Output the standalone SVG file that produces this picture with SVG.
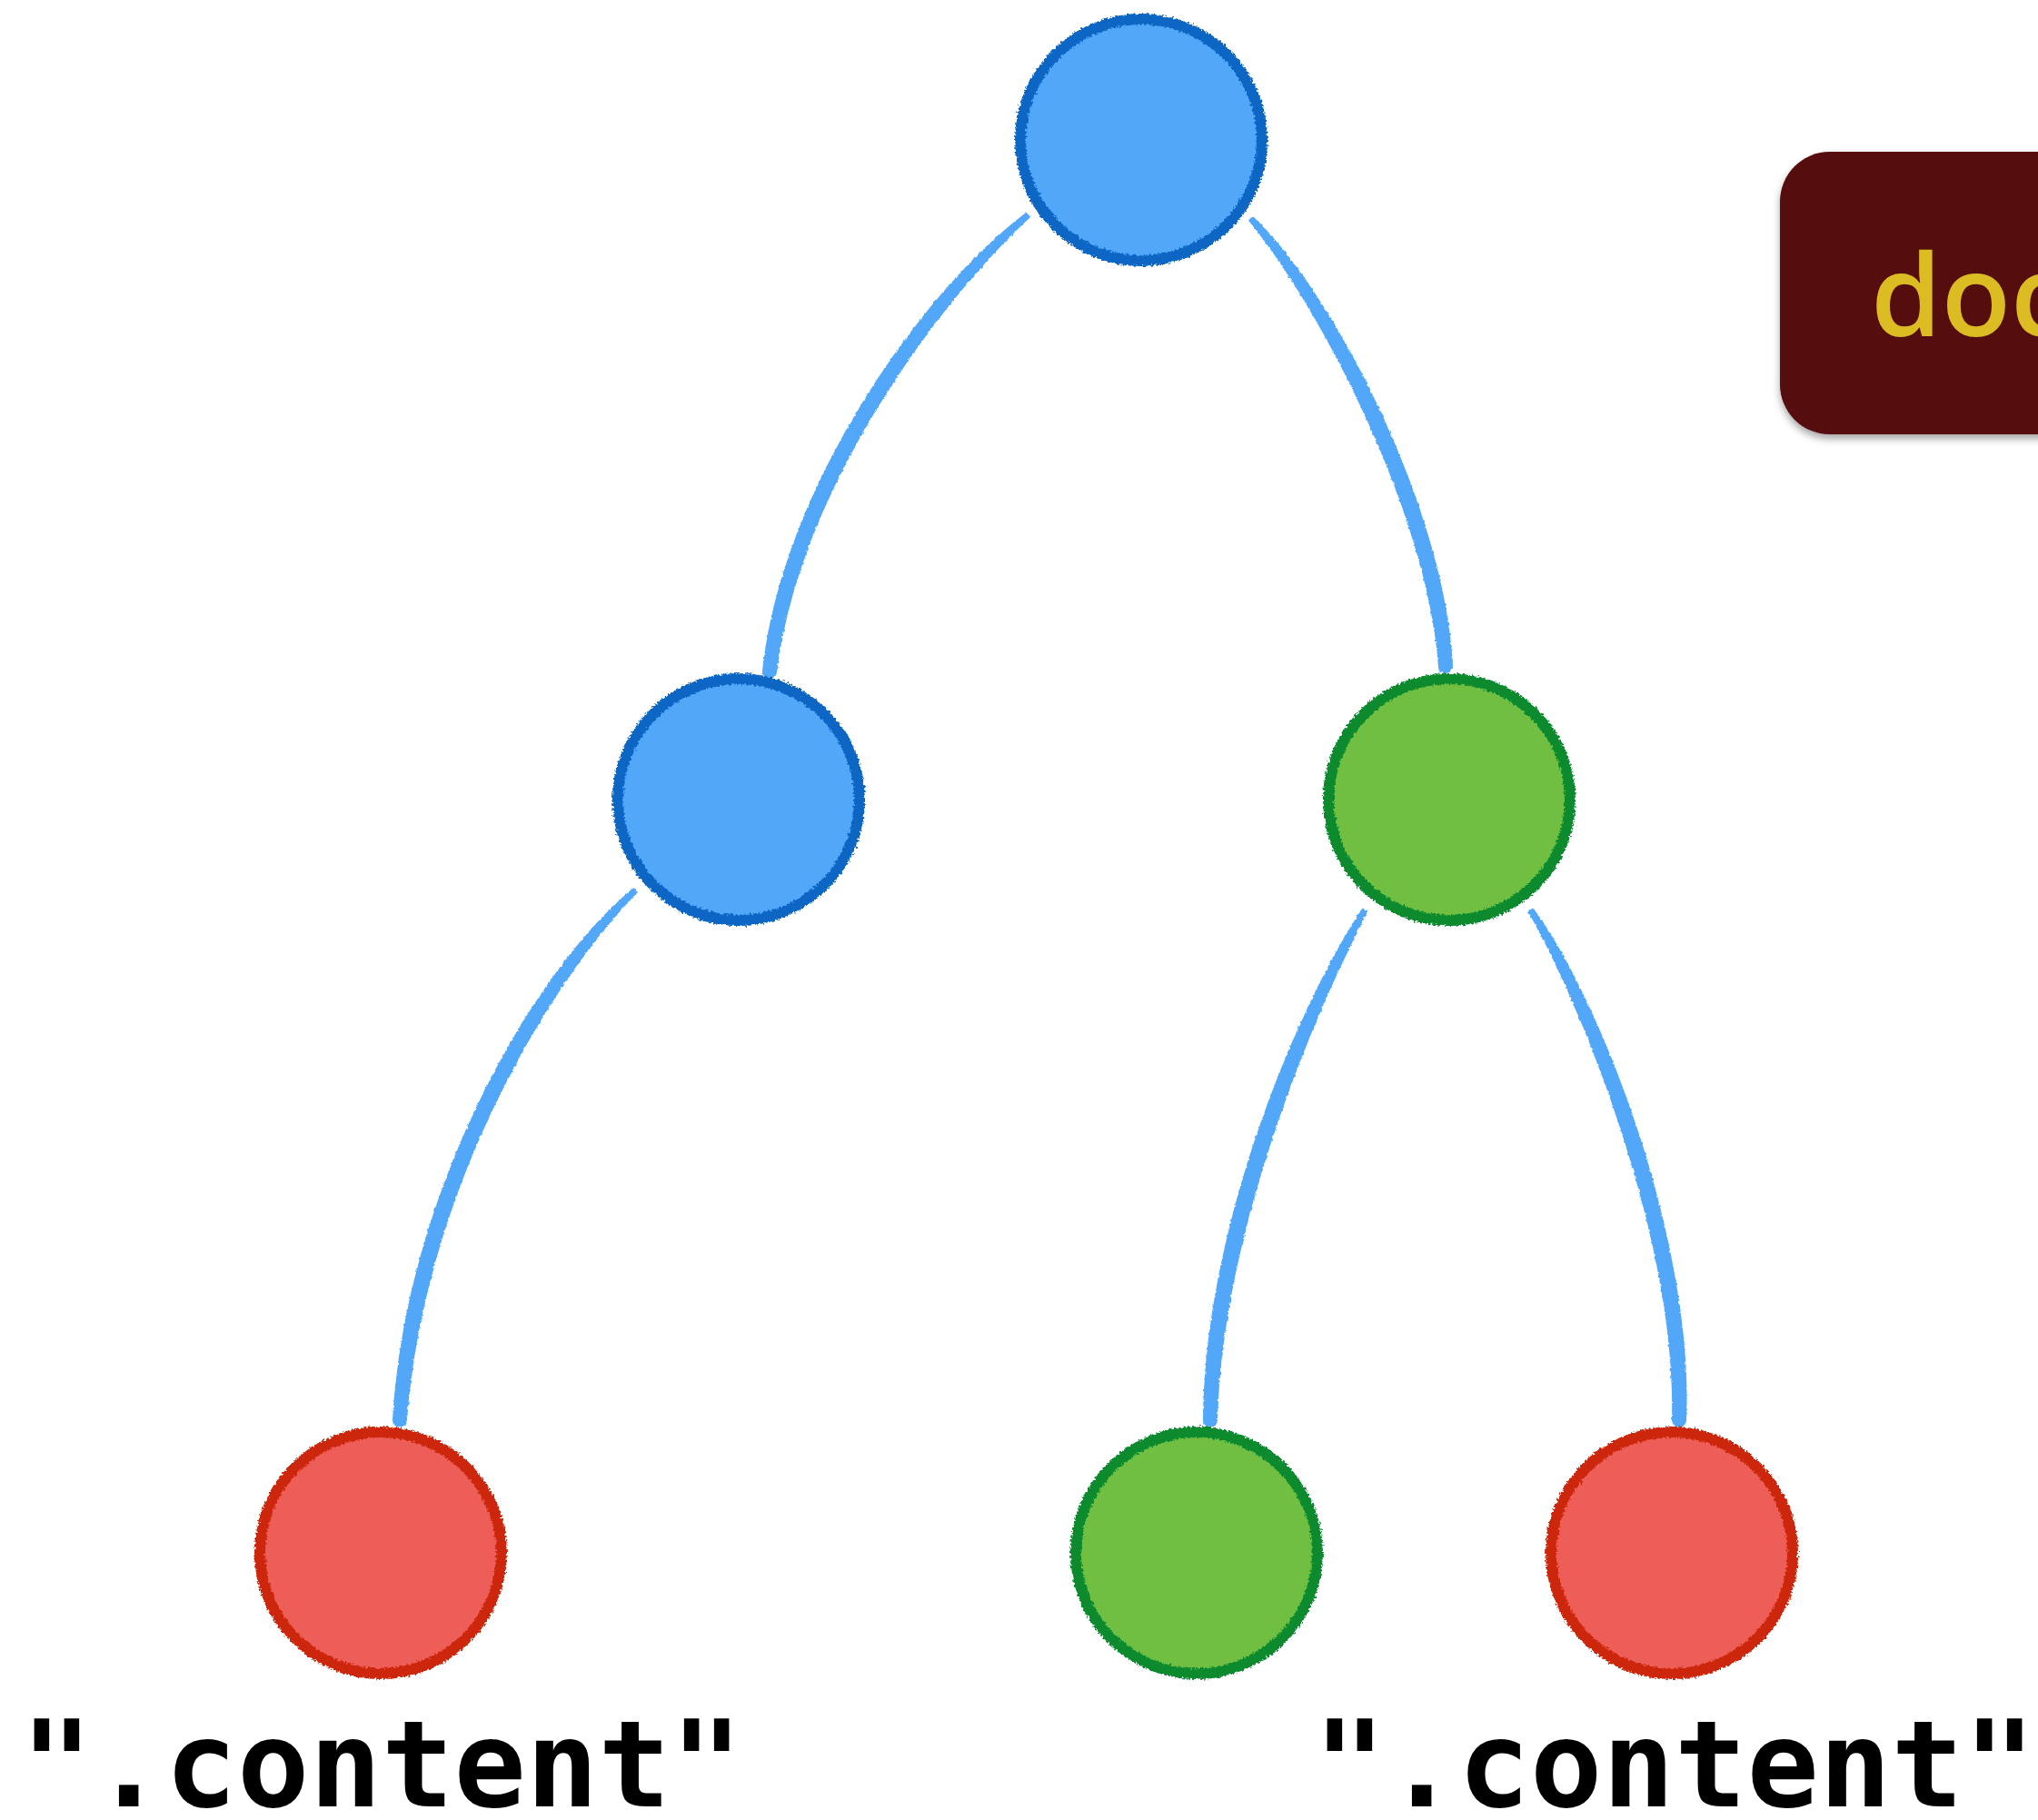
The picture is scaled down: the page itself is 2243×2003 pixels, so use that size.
<svg xmlns="http://www.w3.org/2000/svg" width="2243" height="2003" viewBox="0 0 2243 2003">
<style>
.edge{fill:#52a7f9;stroke:#52a7f9;stroke-width:2;stroke-linejoin:round;filter:url(#rough2)}
.ring{fill:none;stroke-width:12;filter:url(#rough)}
.blue .fill{fill:#52a7f9}.blue .ring{stroke:#0866c4}
.green .fill{fill:#70bf43}.green .ring{stroke:#078a2e}
.red .fill{fill:#ec5e57}.red .ring{stroke:#cc2608}
.lbl{font-family:"DejaVu Sans Mono","Liberation Mono",monospace;font-weight:bold;font-size:132px;fill:#000;text-anchor:middle}
.boxtxt{font-family:"Open Sans","Noto Sans",sans-serif;font-weight:600;font-size:125px;fill:#dbbc23}
</style>
<defs>
<filter id="rough" x="-10%" y="-10%" width="120%" height="120%">
<feTurbulence type="fractalNoise" baseFrequency="0.4" numOctaves="2" seed="5" result="n"/>
<feDisplacementMap in="SourceGraphic" in2="n" scale="6" xChannelSelector="R" yChannelSelector="G"/>
</filter>
<filter id="rough2" x="-10%" y="-5%" width="120%" height="110%">
<feTurbulence type="fractalNoise" baseFrequency="0.3" numOctaves="2" seed="2" result="n"/>
<feDisplacementMap in="SourceGraphic" in2="n" scale="3" xChannelSelector="R" yChannelSelector="G"/>
</filter>
<filter id="shadow" x="-10%" y="-10%" width="130%" height="130%">
<feDropShadow dx="0" dy="5" stdDeviation="4" flood-color="#000" flood-opacity="0.35"/>
</filter>
</defs>
<rect width="2243" height="2003" fill="#fff"/>
<g id="connectors">
<path class="edge" d="M1129.4,235.1 C1013.6,322.3 861.1,539 840,738.2 A7,7 0 0 0 854,739.8 C878.9,541 1026.4,337.7 1132.6,238.9 Z"/>
<path class="edge" d="M1375.2,242.7 C1452.7,336.8 1571,560.6 1584,733.4 A7,7 0 0 0 1598,732.6 C1589,559.4 1467.3,323.2 1378.8,239.3 Z"/>
<path class="edge" d="M697.3,978.2 C583.2,1072.6 446,1319.4 433,1562.6 A7,7 0 0 0 447,1563.4 C464,1320.6 596.8,1087.4 700.7,981.8 Z"/>
<path class="edge" d="M1499.8,1000.7 C1421.4,1119.95 1326,1359.9 1325,1562.9 A7,7 0 0 0 1339,1563.1 C1344,1360.1 1438.6,1130.05 1504.2,1003.3 Z"/>
<path class="edge" d="M1682.9,1003.4 C1746.6,1115.4 1846,1369.7 1841,1562.7 A7,7 0 0 0 1855,1563.3 C1864,1370.3 1763.4,1104.6 1687.1,1000.6 Z"/>
</g>
<g id="node-root" class="blue"><circle class="fill" cx="1256" cy="154" r="135"/><circle class="ring" cx="1256" cy="154" r="133"/></g>
<g id="node-mid-left" class="blue"><circle class="fill" cx="813" cy="880" r="135"/><circle class="ring" cx="813" cy="880" r="133"/></g>
<g id="node-mid-right" class="green"><circle class="fill" cx="1595" cy="880" r="135"/><circle class="ring" cx="1595" cy="880" r="133"/></g>
<g id="node-bottom-left" class="red"><circle class="fill" cx="419" cy="1709" r="135"/><circle class="ring" cx="419" cy="1709" r="133"/></g>
<g id="node-bottom-mid" class="green"><circle class="fill" cx="1317" cy="1709" r="135"/><circle class="ring" cx="1317" cy="1709" r="133"/></g>
<g id="node-bottom-right" class="red"><circle class="fill" cx="1840" cy="1709" r="135"/><circle class="ring" cx="1840" cy="1709" r="133"/></g>
<g id="label-left"><text class="lbl" x="420" y="1988">".content"</text></g>
<g id="label-right"><text class="lbl" x="1843" y="1988">".content"</text></g>
<g id="doc-box">
<rect x="1959" y="167" width="400" height="311" rx="55" ry="55" fill="#560809" filter="url(#shadow)"/>
<text class="boxtxt" x="2059" y="370">doc</text>
</g>
</svg>
